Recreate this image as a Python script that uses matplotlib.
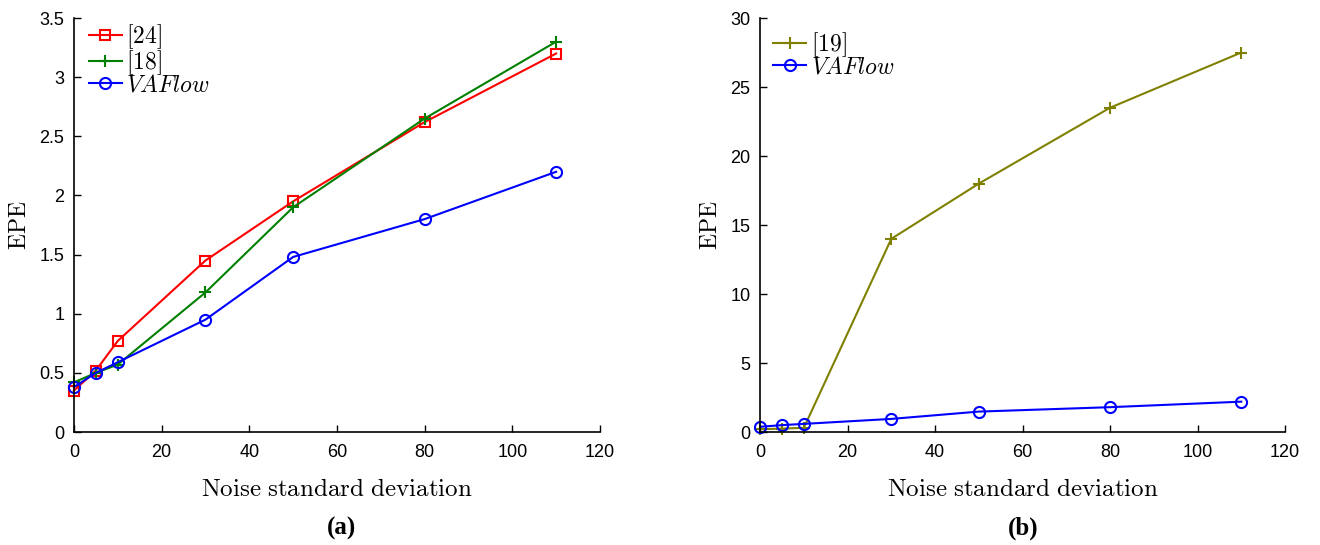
import matplotlib
matplotlib.use("Agg")
import matplotlib.pyplot as plt

# noise levels and EPE values
noise = [0, 5, 10, 30, 50, 80, 110]
epe_24 = [0.35, 0.52, 0.77, 1.45, 1.95, 2.62, 3.20]
epe_18 = [0.42, 0.50, 0.57, 1.18, 1.90, 2.65, 3.30]
epe_vaflow = [0.38, 0.50, 0.59, 0.95, 1.48, 1.80, 2.20]
epe_19 = [0.20, 0.25, 0.30, 14.0, 18.0, 23.5, 27.5]

xticks = [0, 20, 40, 60, 80, 100, 120]
yticks_a = [0, 0.5, 1, 1.5, 2, 2.5, 3, 3.5]
yticks_b = [0, 5, 10, 15, 20, 25, 30]

plt.rcParams.update({
    'mathtext.fontset': 'cm',
    'font.family': 'Liberation Sans',
    'font.size': 13,
    'axes.linewidth': 1.2,
    'lines.linewidth': 1.5,
})

fig = plt.figure(figsize=(13.2, 5.45), dpi=100)
ax_a = fig.add_axes([0.056, 0.2073, 0.3985, 0.7596])
ax_b = fig.add_axes([0.5758, 0.2073, 0.3977, 0.7596])


def style_axis(ax, yticks, ylim):
    ax.set_xlim(0, 120)
    ax.set_ylim(*ylim)
    ax.set_xticks(xticks)
    ax.set_yticks(yticks)
    ax.set_yticklabels([f"{t:g}" for t in yticks])
    ax.spines['top'].set_visible(False)
    ax.spines['right'].set_visible(False)
    ax.tick_params(direction='in', length=5, width=1.0, labelsize=13)
    ax.tick_params(axis='x', pad=8.5)
    ax.tick_params(axis='y', pad=7)
    ax.set_xlabel(r'$\mathrm{Noise\ standard\ deviation}$', fontsize=18, labelpad=12)
    ax.set_ylabel(r'$\mathrm{EPE}$', fontsize=17, labelpad=6)


mk = dict(markerfacecolor='none', markeredgewidth=1.5)
leg = dict(loc='upper left', frameon=False, fontsize=17, handlelength=1.4,
           handletextpad=0.2, labelspacing=-0.12, borderpad=0.0, borderaxespad=0.0)

# (a)
ax_a.plot(noise, epe_24, color='#ff0000', marker='s', markersize=7, label=r'$[24]$', clip_on=False, **mk)
ax_a.plot(noise, epe_18, color='#008000', marker='+', markersize=9, label=r'$[18]$', clip_on=False, **mk)
ax_a.plot(noise, epe_vaflow, color='#0000ff', marker='o', markersize=8, label=r'$VAFlow$', clip_on=False, **mk)
style_axis(ax_a, yticks_a, (0, 3.5))
ax_a.legend(bbox_to_anchor=(0.028, 0.99), **leg)

# (b)
ax_b.plot(noise, epe_19, color='#808000', marker='+', markersize=9, label=r'$[19]$', clip_on=False, **mk)
ax_b.plot(noise, epe_vaflow, color='#0000ff', marker='o', markersize=8, label=r'$VAFlow$', clip_on=False, **mk)
style_axis(ax_b, yticks_b, (0, 30))
ax_b.legend(bbox_to_anchor=(0.025, 0.97), **leg)

fig.text(341 / 1320, 1 - 528 / 545, '(a)', ha='center', va='center',
         family='Liberation Serif', fontweight='bold', fontsize=18)
fig.text(1023 / 1320, 1 - 528 / 545, '(b)', ha='center', va='center',
         family='Liberation Serif', fontweight='bold', fontsize=18)

fig.savefig('out.png', dpi=100, facecolor='white')
